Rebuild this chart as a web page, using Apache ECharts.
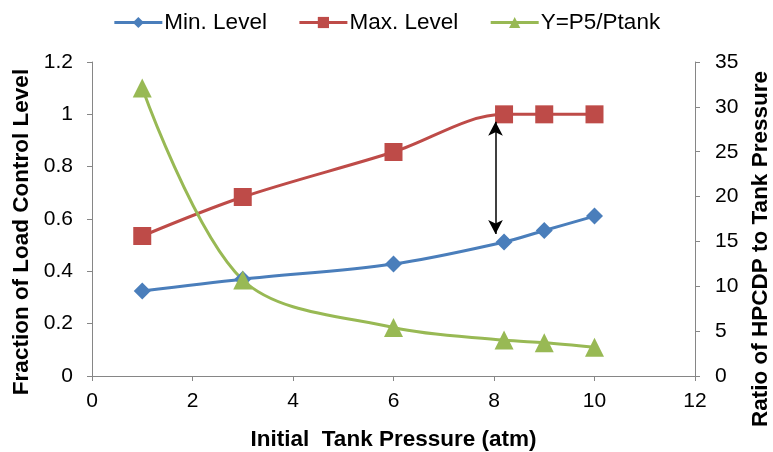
<!DOCTYPE html>
<html><head><meta charset="utf-8">
<script src="https://cdn.jsdelivr.net/npm/echarts@6/dist/echarts.min.js"></script>
<style>html,body{margin:0;padding:0;background:#fff}#c{width:773px;height:452px}</style>
</head><body><div id="c"></div>
<script>
const pressure = [1, 3, 6, 8.2, 9, 10];
const minLevel = [0.325, 0.37, 0.428, 0.512, 0.556, 0.611];
const maxLevel = [0.535, 0.684, 0.856, 1.0, 1.0, 1.0];
const ratio = [32.1, 10.7, 5.4, 4.0, 3.7, 3.2];
const xTicks = {min: 0, max: 12, interval: 2};
const leftTicks = {min: 0, max: 1.2, interval: 0.2};
const rightTicks = {min: 0, max: 35, interval: 5};
const arrowX = 8.03, arrowTop = 0.972, arrowBottom = 0.543;

const font = 'Liberation Sans, Arial, sans-serif';
const axisCol = '#868686';
const pair = (xs, ys) => xs.map((x, i) => [x, ys[i]]);
const titleStyle = {fontSize: 22.5, fontWeight: 'bold', color: '#000', fontFamily: font};
const tick = {show: true, length: 5, lineStyle: {color: axisCol}};

const chart = echarts.init(document.getElementById('c'));
chart.setOption({
  animation: false,
  textStyle: {fontFamily: font},
  legend: {
    top: 6, left: 'center', itemGap: 31, itemWidth: 48, itemHeight: 14,
    lineStyle: {width: 3},
    textStyle: {fontSize: 22.5, color: '#000', fontFamily: font, padding: [0, 0, 0, -3]},
    data: ['Min. Level', 'Max. Level', 'Y=P5/Ptank']
  },
  grid: {left: 92, right: 78, top: 62, bottom: 76, outerBoundsMode: 'none', containLabel: false},
  xAxis: Object.assign({
    type: 'value',
    name: 'Initial  Tank Pressure (atm)', nameLocation: 'middle', nameGap: 52,
    nameTextStyle: titleStyle,
    axisLine: {lineStyle: {color: axisCol}}, axisTick: tick,
    axisLabel: {fontSize: 21, color: '#000', margin: 15},
    splitLine: {show: false}
  }, xTicks),
  yAxis: [Object.assign({
    type: 'value',
    name: 'Fraction of Load Control Level', nameLocation: 'middle', nameGap: 59,
    nameTextStyle: Object.assign({padding: [0, 26, 0, 0]}, titleStyle),
    axisLine: {show: true, lineStyle: {color: axisCol}}, axisTick: tick,
    axisLabel: {fontSize: 21, color: '#000', margin: 19},
    splitLine: {show: false}
  }, leftTicks), Object.assign({
    type: 'value', position: 'right',
    name: 'Ratio of HPCDP to Tank Pressure', nameLocation: 'middle', nameGap: 54, nameRotate: 90,
    nameTextStyle: Object.assign({padding: [0, 60, 0, 0]}, titleStyle),
    axisLine: {show: true, lineStyle: {color: axisCol}}, axisTick: tick,
    axisLabel: {fontSize: 21, color: '#000', margin: 20},
    splitLine: {show: false}
  }, rightTicks)],
  series: [{
    name: 'Min. Level', type: 'line', yAxisIndex: 0, smooth: 0.33,
    data: pair(pressure, minLevel),
    symbol: 'diamond', symbolSize: 17,
    lineStyle: {width: 3, color: '#4A7EBB'}, itemStyle: {color: '#4A7EBB'},
    markLine: {
      silent: true, symbol: ['arrow', 'arrow'], symbolSize: [11, 14],
      label: {show: false},
      lineStyle: {color: '#000', width: 1.5, type: 'solid'},
      data: [[{coord: [arrowX, arrowTop]}, {coord: [arrowX, arrowBottom]}]]
    }
  }, {
    name: 'Max. Level', type: 'line', yAxisIndex: 0, smooth: 0.33,
    data: pair(pressure, maxLevel),
    symbol: 'rect', symbolSize: 18,
    lineStyle: {width: 3, color: '#BE4B48'}, itemStyle: {color: '#BE4B48'}
  }, {
    name: 'Y=P5/Ptank', type: 'line', yAxisIndex: 1, smooth: 0.33,
    data: pair(pressure, ratio),
    symbol: 'triangle', symbolSize: 19,
    lineStyle: {width: 3, color: '#98B954'}, itemStyle: {color: '#98B954'}
  }]
});
</script></body></html>
